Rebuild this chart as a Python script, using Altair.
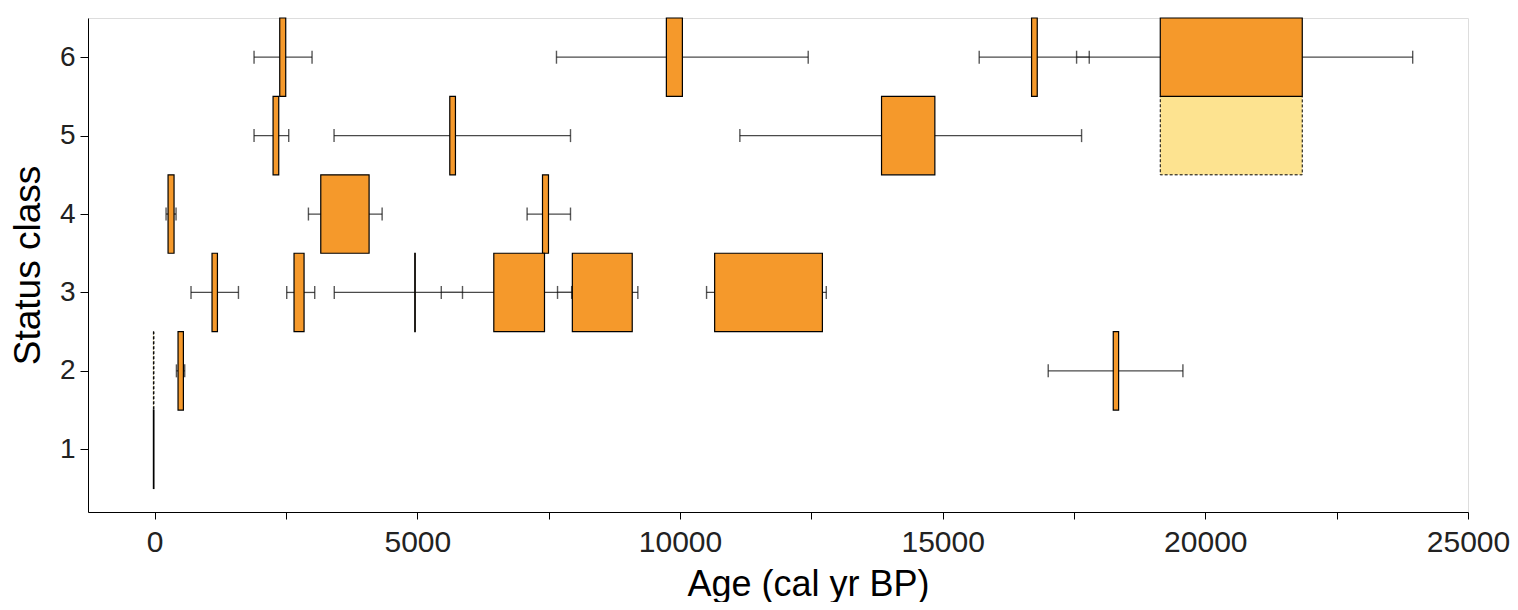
import altair as alt
import pandas as pd

# Boxes: status class, start age, end age, type (o = orange, y = light yellow dashed)
box_class = [6, 6, 6, 6,
             5, 5, 5, 5,
             4, 4, 4,
             3, 3, 3, 3, 3, 3,
             2, 2, 2,
             1]
box_start = [2380, 9740, 16692, 19142,
             2253, 5617, 13836, 19142,
             254, 3161, 7382,
             1091, 2652, 4950, 6455, 7950, 10659,
             -25, 444, 18247,
             -25]
box_end = [2494, 10045, 16800, 21845,
           2361, 5725, 14851, 21845,
           368, 4081, 7496,
           1194, 2843, 4960, 7420, 9090, 12710,
           -15, 546, 18349,
           -15]
box_type = ["o", "o", "o", "o",
            "o", "o", "o", "y",
            "o", "o", "o",
            "o", "o", "o", "o", "o", "o",
            "y", "o", "o",
            "o"]

# Error bars: status class, low age, high age
err_class = [6, 6, 6, 6,
             5, 5, 5,
             4, 4, 4,
             3, 3, 3, 3, 3, 3,
             2, 2]
err_lo = [1891, 7648, 15695, 17549,
          1891, 3414, 11139,
          216, 2926, 7089,
          691, 2513, 3418, 5455, 7668, 10505,
          413, 17009]
err_hi = [2995, 12440, 17790, 23947,
          2551, 7915, 17644,
          406, 4329, 7915,
          1594, 3046, 5859, 7937, 9197, 12784,
          571, 19573]

x_ticks = [0, 2500, 5000, 7500, 10000, 12500, 15000, 17500, 20000, 22500, 25000]
y_ticks = [1, 2, 3, 4, 5, 6]

boxes = pd.DataFrame({"cls": box_class, "start": box_start, "end": box_end, "kind": box_type})
errs = pd.DataFrame({"cls": err_class, "lo": err_lo, "hi": err_hi})

FONT = "Liberation Sans"
ORANGE = "#F5992B"
YELLOW = "#FDE390"

x_scale = alt.Scale(domain=[-1270, 25000], nice=False, zero=False)
y_scale = alt.Scale(domain=[0.2, 6.5], nice=False, zero=False)

x_axis = alt.Axis(
    title="Age (cal yr BP)", values=x_ticks, format="d",
    labelExpr="datum.value % 5000 == 0 ? datum.label : ''",
    grid=False, domainColor="black", tickColor="black", tickSize=7,
    labelFontSize=30, labelFont=FONT, labelColor="#222", labelPadding=8,
    titleFontSize=36, titleFont=FONT, titleFontWeight="normal", titleColor="black",
    titleBaseline="alphabetic", titleX=720, titleY=83, labelFlush=False,
)
y_axis = alt.Axis(
    title="Status class", values=y_ticks, format="d",
    grid=False, domainColor="black", tickColor="black", tickSize=8,
    labelFontSize=28, labelFont=FONT, labelColor="#222", labelPadding=5,
    titleFontSize=37, titleFont=FONT, titleFontWeight="normal", titleColor="black",
    titlePadding=12,
)

base_err = alt.Chart(errs)
err_line = base_err.mark_rule(color="#4a4a4a", strokeWidth=1.3).encode(
    x=alt.X("lo:Q", scale=x_scale, axis=x_axis),
    x2="hi:Q",
    y=alt.Y("cls:Q", scale=y_scale, axis=y_axis),
)
cap_lo = base_err.mark_tick(orient="vertical", size=13, thickness=1.4, color="#111").encode(
    x=alt.X("lo:Q", scale=x_scale), y=alt.Y("cls:Q", scale=y_scale)
)
cap_hi = base_err.mark_tick(orient="vertical", size=13, thickness=1.4, color="#111").encode(
    x=alt.X("hi:Q", scale=x_scale), y=alt.Y("cls:Q", scale=y_scale)
)

base_box = alt.Chart(boxes).transform_calculate(
    ylo="datum.cls - 0.5", yhi="datum.cls + 0.5"
)
orange_boxes = base_box.transform_filter("datum.kind == 'o'").mark_rect(
    fill=ORANGE, stroke="black", strokeWidth=1.2
).encode(
    x=alt.X("start:Q", scale=x_scale), x2="end:Q",
    y=alt.Y("ylo:Q", scale=y_scale), y2="yhi:Q",
)
yellow_boxes = base_box.transform_filter("datum.kind == 'y'").mark_rect(
    fill=YELLOW, stroke="black", strokeWidth=1, strokeDash=[3, 2]
).encode(
    x=alt.X("start:Q", scale=x_scale), x2="end:Q",
    y=alt.Y("ylo:Q", scale=y_scale), y2="yhi:Q",
)

chart = alt.layer(err_line, cap_lo, cap_hi, yellow_boxes, orange_boxes).properties(
    width=1380, height=494,
    autosize=alt.AutoSizeParams(type="none"),
    padding={"left": 80, "top": 10, "right": 42, "bottom": 90},
).configure_view(stroke=None).configure(background="white")

chart.save("out.html", embed_options={"renderer": "svg", "actions": False})
